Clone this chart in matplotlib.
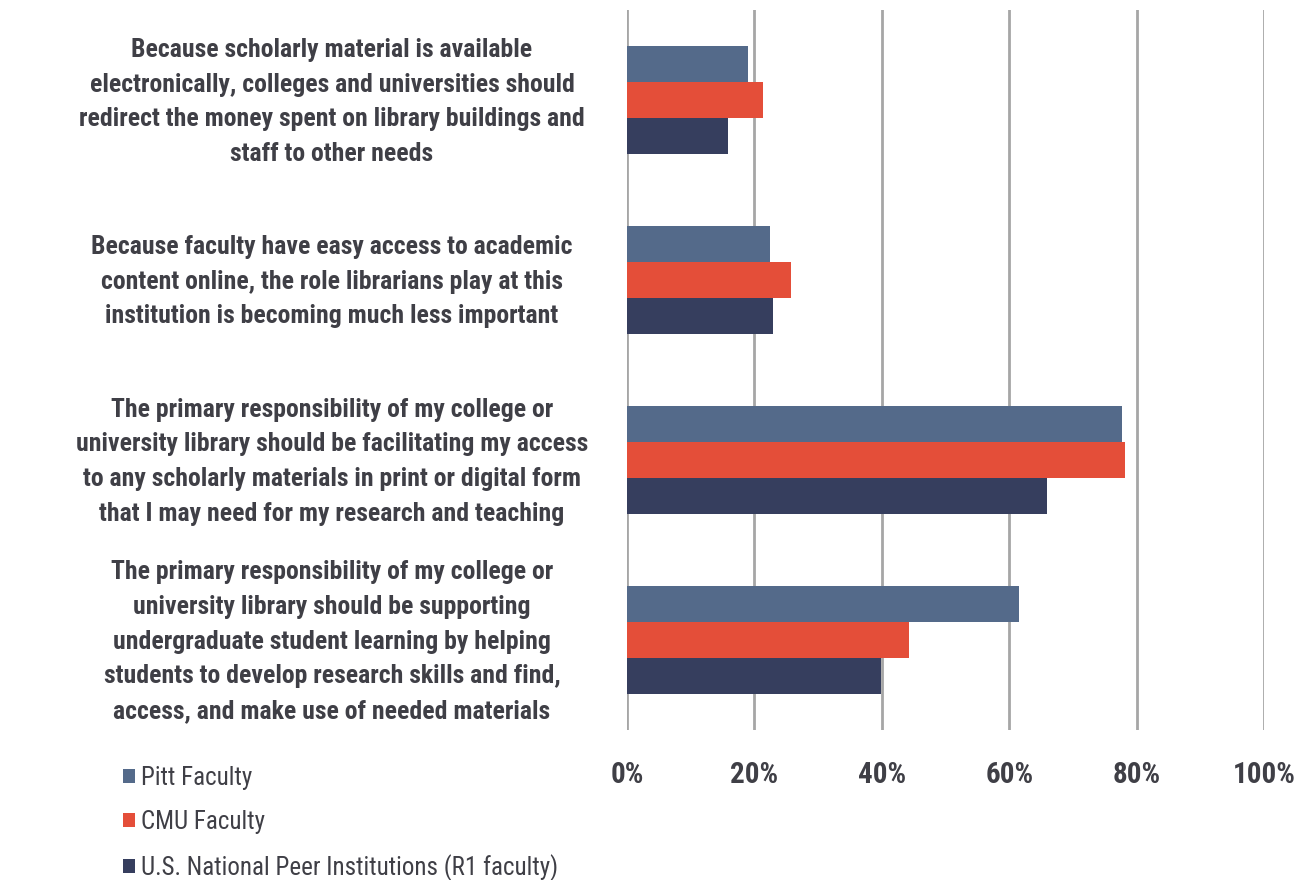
import numpy as np
import matplotlib
matplotlib.use('Agg')
from matplotlib import pyplot as plt
from matplotlib import font_manager

# the original uses Arial Narrow; take the closest narrow family installed
_names = set(f.name for f in font_manager.fontManager.ttflist)
_font = 'Liberation Sans'
for cand in ['Liberation Sans Narrow', 'Arial Narrow', 'Nimbus Sans Narrow',
             'Roboto Condensed', 'Archivo Narrow', 'Open Sans Condensed',
             'Barlow Semi Condensed']:
    if cand in _names:
        _font = cand
        break

plt.rcParams['font.family'] = [_font, 'DejaVu Sans']

statements = [
    "Because scholarly material is available\n"
    "electronically, colleges and universities should\n"
    "redirect the money spent on library buildings and\n"
    "staff to other needs",
    "Because faculty have easy access to academic\n"
    "content online, the role librarians play at this\n"
    "institution is becoming much less important",
    "The primary responsibility of my college or\n"
    "university library should be facilitating my access\n"
    "to any scholarly materials in print or digital form\n"
    "that I may need for my research and teaching",
    "The primary responsibility of my college or\n"
    "university library should be supporting\n"
    "undergraduate student learning by helping\n"
    "students to develop research skills and find,\n"
    "access, and make use of needed materials",
]
series = ["Pitt Faculty", "CMU Faculty", "U.S. National Peer Institutions (R1 faculty)"]
pitt = [19.0, 22.4, 77.7, 61.5]
cmu = [21.4, 25.7, 78.2, 44.3]
peer = [15.9, 22.9, 65.9, 39.9]
colors = ['#546a8a', '#e44e39', '#363e5e']
text_color = '#3f3f46'

fig = plt.figure(figsize=(13.03, 8.8), dpi=100)
ax = fig.add_axes([0.4812, 0.1705, 0.4889, 0.8181])

y = np.arange(len(statements))
h = 0.2
for i, (vals, name) in enumerate(zip([pitt, cmu, peer], series)):
    ax.barh(y + (i - 1) * h, vals, height=h, color=colors[i], label=name, zorder=3)

ax.set_xlim(0, 100)
ax.set_ylim(3.5, -0.5)
ax.set_xticks(np.arange(0, 101, 20))
ax.set_xticklabels(['%d%%' % v for v in range(0, 101, 20)],
                   fontsize=21, fontweight='bold', color=text_color)
ax.grid(axis='x', color='#a6a6a6', linewidth=2, zorder=0)
ax.tick_params(axis='both', length=0)
ax.tick_params(axis='x', pad=22)
ax.set_yticks([])
for s in ax.spines.values():
    s.set_visible(False)

# category labels, centred in a column left of the axes
for yi, txt in zip(y, statements):
    ax.text(-46.3, yi + 0.01, txt, ha='center', va='center', multialignment='center',
            fontsize=18.5, fontweight='bold', color=text_color,
            linespacing=1.56, clip_on=False)

fig.legend(loc='upper left', bbox_to_anchor=(0.0865, 0.141), frameon=False,
           fontsize=18, handlelength=0.5, handleheight=0.5,
           handletextpad=0.25, labelspacing=0.8, labelcolor=text_color,
           borderaxespad=0)

fig.savefig('out.png', dpi=100)
